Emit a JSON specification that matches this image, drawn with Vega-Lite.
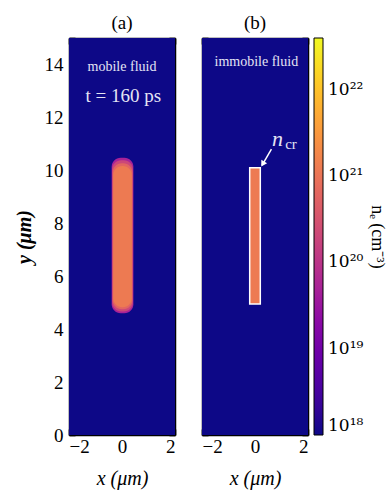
{
  "$schema": "https://vega.github.io/schema/vega-lite/v6.json",
  "padding": {"left": 14, "top": 14, "right": 4, "bottom": 4},
  "bounds": "flush",
  "spacing": 27,
  "config": {
    "font": "Liberation Serif",
    "view": {"stroke": null},
    "axis": {"zindex": 2, "grid": false, "domainColor": "black", "domainWidth": 1.5, "tickColor": "black", "tickWidth": 1.6, "labelColor": "black", "titleColor": "black", "labelFontSize": 19, "labelFont": "Liberation Serif", "titleFont": "Liberation Serif", "titleFontWeight": "normal"},
    "title": {"font": "Liberation Serif", "fontSize": 19, "fontWeight": "normal", "offset": 4}
  },
  "resolve": {"scale": {"color": "shared"}},
  "hconcat": [
    {
      "width": 106,
      "height": 397,
      "title": {"text": "(a)"},
      "resolve": {"axis": {"x": "independent", "y": "independent"}},
      "layer": [
        {
          "data": {"values": [{"x0": -2, "x1": 2, "y0": 0, "y1": 15, "ne": 1e18}]},
          "mark": {"type": "rect"},
          "encoding": {
            "x": {"field": "x0", "type": "quantitative", "scale": {"domain": [-2, 2], "nice": false, "zero": false},
              "axis": {"orient": "bottom", "values": [-2, -1.5, -1, -0.5, 0, 0.5, 1, 1.5, 2], "format": "d", "labelExpr": "datum.value % 2 == 0 ? datum.label : ''", "tickSize": -6, "labelPadding": 8, "title": "x (μm)", "titleFontSize": 20, "titleFontStyle": "italic", "titlePadding": 12}},
            "x2": {"field": "x1"},
            "y": {"field": "y0", "type": "quantitative", "scale": {"domain": [0, 15], "nice": false, "zero": false},
              "axis": {"orient": "left", "values": [0, 0.5, 1, 1.5, 2, 2.5, 3, 3.5, 4, 4.5, 5, 5.5, 6, 6.5, 7, 7.5, 8, 8.5, 9, 9.5, 10, 10.5, 11, 11.5, 12, 12.5, 13, 13.5, 14, 14.5, 15], "format": "d", "labelExpr": "datum.value % 2 == 0 ? datum.label : ''", "tickSize": -6, "labelPadding": 12, "title": "y (μm)", "titleFontSize": 20, "titleFontStyle": "italic", "titleFontWeight": "bold", "titlePadding": 10}},
            "y2": {"field": "y1"},
            "color": {"field": "ne", "type": "quantitative",
              "scale": {"type": "log", "domain": [1e18, 4e22], "scheme": "plasma"},
              "legend": {"values": [1e18, 1e19, 1e20, 1e21, 1e22],
                "labelExpr": "round(log(datum.value)/LN10) == 18 ? '10¹⁸' : round(log(datum.value)/LN10) == 19 ? '10¹⁹' : round(log(datum.value)/LN10) == 20 ? '10²⁰' : round(log(datum.value)/LN10) == 21 ? '10²¹' : '10²²'",
                "title": "nₑ (cm⁻³)", "titleOrient": "right", "titleAngle": 90, "titleFontSize": 18, "titleFontWeight": "normal", "titleColor": "black", "titleAnchor": "middle", "titlePadding": 5,
                "direction": "vertical", "gradientLength": 397, "gradientThickness": 9, "gradientStrokeColor": "black", "gradientStrokeWidth": 1,
                "labelFont": "DejaVu Serif", "labelFontSize": 17, "labelColor": "black", "labelOffset": 5, "offset": 5}}
          }
        },
        {
          "data": {"values": [
            {"x0": -0.39, "x1": 0.43, "y0": 4.6, "y1": 10.48, "ne": 5e19},
            {"x0": -0.37, "x1": 0.41, "y0": 4.67, "y1": 10.38, "ne": 2e20},
            {"x0": -0.35, "x1": 0.39, "y0": 4.75, "y1": 10.27, "ne": 6e20},
            {"x0": -0.33, "x1": 0.37, "y0": 4.83, "y1": 10.16, "ne": 1.2e21}
          ]},
          "mark": {"type": "rect", "cornerRadius": 9},
          "encoding": {
            "x": {"field": "x0", "type": "quantitative", "axis": {"orient": "top", "labels": false, "values": [-2, -1.5, -1, -0.5, 0, 0.5, 1, 1.5, 2], "tickSize": -6, "title": null}},
            "x2": {"field": "x1"},
            "y": {"field": "y0", "type": "quantitative", "axis": {"orient": "right", "labels": false, "values": [0, 0.5, 1, 1.5, 2, 2.5, 3, 3.5, 4, 4.5, 5, 5.5, 6, 6.5, 7, 7.5, 8, 8.5, 9, 9.5, 10, 10.5, 11, 11.5, 12, 12.5, 13, 13.5, 14, 14.5, 15], "tickSize": -6, "title": null}},
            "y2": {"field": "y1"},
            "color": {"field": "ne", "type": "quantitative"}
          }
        },
        {
          "data": {"values": [{"x": 0, "y": 13.9, "label": "mobile fluid"}]},
          "mark": {"type": "text", "color": "#e4e4f4", "font": "Liberation Serif", "fontSize": 14},
          "encoding": {
            "x": {"field": "x", "type": "quantitative", "axis": null},
            "y": {"field": "y", "type": "quantitative", "axis": null},
            "text": {"field": "label"}
          }
        },
        {
          "data": {"values": [{"x": 0.05, "y": 12.8, "label": "t = 160 ps"}]},
          "mark": {"type": "text", "color": "#e4e4f4", "font": "Liberation Serif", "fontSize": 19},
          "encoding": {
            "x": {"field": "x", "type": "quantitative", "axis": null},
            "y": {"field": "y", "type": "quantitative", "axis": null},
            "text": {"field": "label"}
          }
        }
      ]
    },
    {
      "width": 106,
      "height": 397,
      "title": {"text": "(b)"},
      "resolve": {"axis": {"x": "independent", "y": "independent"}},
      "layer": [
        {
          "data": {"values": [{"x0": -2, "x1": 2, "y0": 0, "y1": 15, "ne": 1e18}]},
          "mark": {"type": "rect"},
          "encoding": {
            "x": {"field": "x0", "type": "quantitative", "scale": {"domain": [-2, 2], "nice": false, "zero": false},
              "axis": {"orient": "bottom", "values": [-2, -1.5, -1, -0.5, 0, 0.5, 1, 1.5, 2], "format": "d", "labelExpr": "datum.value % 2 == 0 ? datum.label : ''", "tickSize": -6, "labelPadding": 8, "title": "x (μm)", "titleFontSize": 20, "titleFontStyle": "italic", "titlePadding": 12}},
            "x2": {"field": "x1"},
            "y": {"field": "y0", "type": "quantitative", "scale": {"domain": [0, 15], "nice": false, "zero": false},
              "axis": {"orient": "left", "labels": false, "values": [0, 0.5, 1, 1.5, 2, 2.5, 3, 3.5, 4, 4.5, 5, 5.5, 6, 6.5, 7, 7.5, 8, 8.5, 9, 9.5, 10, 10.5, 11, 11.5, 12, 12.5, 13, 13.5, 14, 14.5, 15], "tickSize": -6, "title": null}},
            "y2": {"field": "y1"},
            "color": {"field": "ne", "type": "quantitative", "scale": {"type": "log", "domain": [1e18, 4e22], "scheme": "plasma"}}
          }
        },
        {
          "data": {"values": [{"x0": -0.2, "x1": 0.2, "y0": 4.95, "y1": 10.1, "ne": 1.2e21}]},
          "mark": {"type": "rect", "stroke": "white", "strokeWidth": 1.5},
          "encoding": {
            "x": {"field": "x0", "type": "quantitative", "axis": {"orient": "top", "labels": false, "values": [-2, -1.5, -1, -0.5, 0, 0.5, 1, 1.5, 2], "tickSize": -6, "title": null}},
            "x2": {"field": "x1"},
            "y": {"field": "y0", "type": "quantitative", "axis": {"orient": "right", "labels": false, "values": [0, 0.5, 1, 1.5, 2, 2.5, 3, 3.5, 4, 4.5, 5, 5.5, 6, 6.5, 7, 7.5, 8, 8.5, 9, 9.5, 10, 10.5, 11, 11.5, 12, 12.5, 13, 13.5, 14, 14.5, 15], "tickSize": -6, "title": null}},
            "y2": {"field": "y1"},
            "color": {"field": "ne", "type": "quantitative"}
          }
        },
        {
          "data": {"values": [{"xa": 0.62, "ya": 10.8, "xb": 0.27, "yb": 10.2}]},
          "mark": {"type": "rule", "color": "white", "strokeWidth": 1.5},
          "encoding": {
            "x": {"field": "xa", "type": "quantitative", "axis": null},
            "y": {"field": "ya", "type": "quantitative", "axis": null},
            "x2": {"field": "xb"},
            "y2": {"field": "yb"}
          }
        },
        {
          "data": {"values": [{"xb": 0.31, "yb": 10.27}]},
          "mark": {"type": "point", "shape": "triangle", "filled": true, "color": "white", "opacity": 1, "size": 45, "angle": 211},
          "encoding": {
            "x": {"field": "xb", "type": "quantitative", "axis": null},
            "y": {"field": "yb", "type": "quantitative", "axis": null}
          }
        },
        {
          "data": {"values": [{"x": 0.05, "y": 14.1, "label": "immobile fluid"}]},
          "mark": {"type": "text", "color": "#e4e4f4", "font": "Liberation Serif", "fontSize": 14},
          "encoding": {
            "x": {"field": "x", "type": "quantitative", "axis": null},
            "y": {"field": "y", "type": "quantitative", "axis": null},
            "text": {"field": "label"}
          }
        },
        {
          "data": {"values": [{"x": 0.85, "y": 11.2, "label": "n"}]},
          "mark": {"type": "text", "color": "#e4e4f4", "font": "Liberation Serif", "fontSize": 22, "fontStyle": "italic"},
          "encoding": {
            "x": {"field": "x", "type": "quantitative", "axis": null},
            "y": {"field": "y", "type": "quantitative", "axis": null},
            "text": {"field": "label"}
          }
        },
        {
          "data": {"values": [{"x": 1.36, "y": 10.98, "label": "cr"}]},
          "mark": {"type": "text", "color": "#e4e4f4", "font": "Liberation Serif", "fontSize": 15},
          "encoding": {
            "x": {"field": "x", "type": "quantitative", "axis": null},
            "y": {"field": "y", "type": "quantitative", "axis": null},
            "text": {"field": "label"}
          }
        }
      ]
    }
  ]
}
